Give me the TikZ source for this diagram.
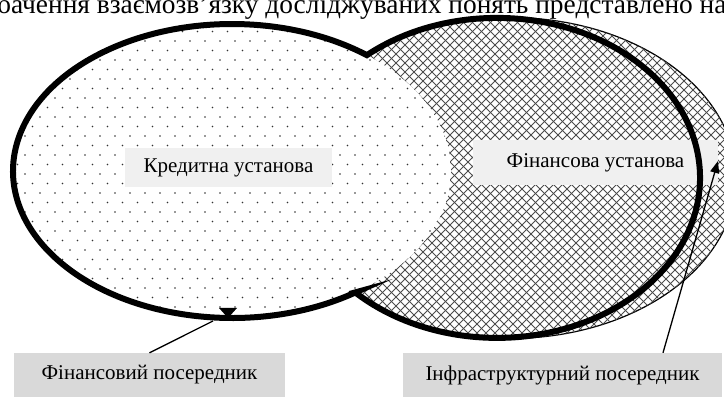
\documentclass[tikz,border=0pt]{standalone}
\usepackage{fontspec}
\setmainfont{Liberation Serif}
\usetikzlibrary{arrows.meta}

\begin{document}
\begin{tikzpicture}[x=1pt, y=-1pt, >={Triangle[length=12pt,width=9pt]},
    lbl/.style={fill=#1, inner sep=0pt, font=\fontsize{21}{25}\selectfont},
    rim/.style={line width=6pt, miter limit=20},
    hatch/.style={black!70, line width=0.75pt}]
    \useasboundingbox (0,0) rectangle (724,401);
    \clip (0,0) rectangle (724,401);

    % 1. Рядок тексту зверху
    \node[anchor=base west, inner sep=0pt, font=\fontsize{27.4}{32}\selectfont] (head) at (-3,14)
        {бачення взаємозв’язку досліджуваних понять представлено на рис.};

    % 2. Зовнішній тонкий еліпс і правий еліпс (сітка)
    \draw[line width=1.2pt] (510,178) ellipse [x radius=226pt, y radius=160.5pt];
    \fill[white] (497,178) ellipse [x radius=203pt, y radius=160pt];
    \begin{scope}
        \clip (510,178) ellipse [x radius=226pt, y radius=160.5pt]
              (497,178) ellipse [x radius=203pt, y radius=160pt];
        \foreach \c in {-144,-135,...,740}
            \draw[hatch] (\c,0) -- ++(401,401);
        \foreach \c in {270,279,...,1160}
            \draw[hatch] (\c,0) -- ++(-401,401);
    \end{scope}

    % 3. Лівий еліпс (точки)
    \begin{scope}
        \clip (232,171) ellipse [x radius=219pt, y radius=147pt];
        \fill[white] (232,171) ellipse [x radius=219pt, y radius=147pt];
        \foreach \r in {0,...,31}
            \foreach \k in {0,...,30}
                \fill[black!80] ({10+\k*15+mod(\r,2)*7.5}, {22+\r*9.5}) circle [radius=0.9pt];
    \end{scope}

    % 4. Підписи
    \node[lbl=gray!12, minimum width=207pt, minimum height=39pt] (ku) at (228.5,167.5) {Кредитна установа};
    \node[lbl=gray!12, minimum width=245pt, minimum height=45pt] (fu) at (595.5,162.5) {Фінансова установа};
    \node[lbl=gray!30, minimum width=271pt, minimum height=44pt] (fp) at (149.5,375) {Фінансовий посередник};
    \node[lbl=gray!30, minimum width=319pt, minimum height=44pt] (ip) at (562.5,375) {Інфраструктурний посередник};

    % 5. Товстий зовнішній контур двох еліпсів
    \draw[rim] (232,171) ++(-55.6:219pt and 147pt)
        arc[start angle=-55.6, end angle=-308, x radius=219pt, y radius=147pt]
        arc[start angle=129.9, end angle=-134.3, x radius=203pt, y radius=160pt] -- cycle;

    % 6. Стрілки
    \coordinate (fp end) at (213,321);
    \draw[line width=1.3pt] (fp.north) -- (fp end);
    \fill (219,308) -- (237,308) -- (228,318) -- cycle;
    \coordinate (ip end) at (718,161);
    \draw[->, line width=1.3pt] ([xshift=100.5pt]ip.north) -- (ip end);
\end{tikzpicture}
\end{document}
